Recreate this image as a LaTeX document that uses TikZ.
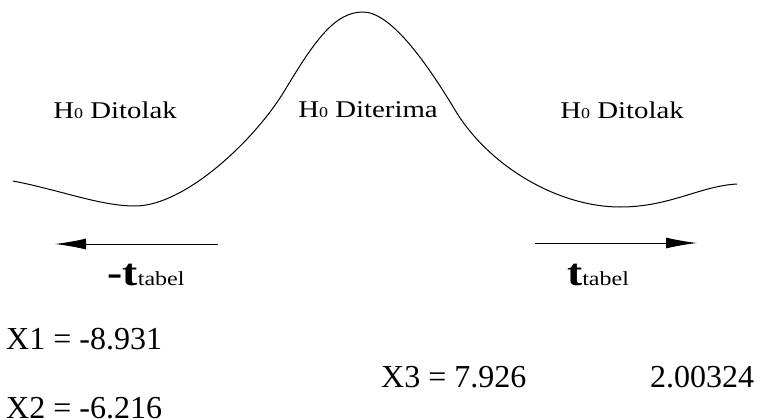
\documentclass[tikz,border=0pt]{standalone}
\usepackage{fontspec}
\setmainfont{Liberation Serif}
\newfontfamily\widefont[FakeStretch=1.2]{Liberation Serif}
\usetikzlibrary{arrows.meta,positioning}
\newcommand{\hnol}{H{\fontsize{15}{15}\selectfont 0}}
\newcommand{\ttab}{{\widefont\bfseries\fontsize{38}{38}\selectfont t}{\widefont\fontsize{20}{20}\selectfont tabel}}

\begin{document}
\begin{tikzpicture}[x=1pt,y=-1pt,
  zone/.style={font=\widefont\fontsize{24}{24}\selectfont,anchor=base,inner sep=0pt},
  tlab/.style={anchor=base,inner sep=0pt},
  val/.style={font=\fontsize{32}{32}\selectfont,anchor=base west,inner sep=0pt},
  curve/.style={line width=1pt,line join=round},
  arr/.style={-{Latex[length=31pt,width=11pt]},line width=1pt}
]
  \useasboundingbox (0,0) rectangle (760,420);

  % distribution curve
  \draw[curve] (13,181) .. controls (60,190) and (100,206) .. (135,206)
    .. controls (185,206) and (255,140) .. (285,90)
    .. controls (315,40) and (335,12) .. (363,12)
    .. controls (390,12) and (425,60) .. (455,110)
    .. controls (490,168) and (560,207) .. (620,207)
    .. controls (670,207) and (700,186) .. (737,184);

  % regions
  \node[zone] (tolakL) at (115,118) {\hnol{} Ditolak};
  \node[zone] (terima) at (368,117) {\hnol{} Diterima};
  \node[zone] (tolakR) at (622,118) {\hnol{} Ditolak};

  % critical values
  \coordinate (lfrom) at (218,244);
  \coordinate (lto)   at (55,244);
  \coordinate (rfrom) at (535,243);
  \coordinate (rto)   at (697,243);
  \draw[arr] (lfrom) -- (lto);
  \draw[arr] (rfrom) -- (rto);
  \node[tlab] (tneg) at (146,285) {{\widefont\bfseries\fontsize{38}{38}\selectfont -}\ttab};
  \node[tlab] (tpos) at (598,285) {\ttab};

  % results
  \node[val] (x1)  at (6,349)   {X1 = -8.931};
  \node[val] (x2)  at (6,418)   {X2 = -6.216};
  \node[val] (x3)  at (381,387) {X3 = 7.926};
  \node[val] (tab) at (650,387) {2.00324};
\end{tikzpicture}
\end{document}
